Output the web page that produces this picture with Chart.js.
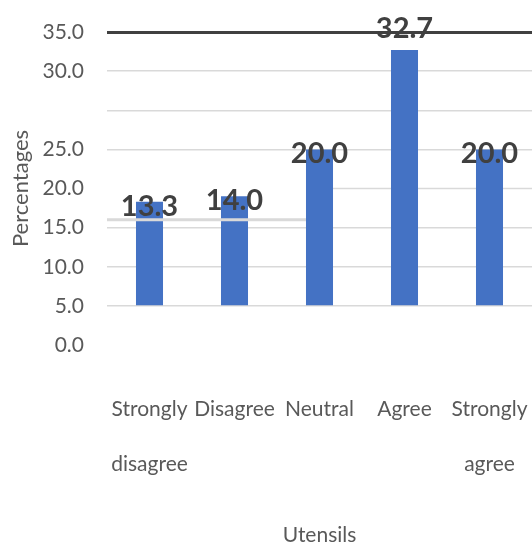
<!DOCTYPE html>
<html>
<head>
<meta charset="utf-8">
<script src="https://cdn.jsdelivr.net/npm/chart.js@4/dist/chart.umd.min.js"></script>
<style>
  html, body { margin: 0; padding: 0; background: #ffffff; }
  #wrap { width: 532px; height: 546px; }
</style>
</head>
<body>
<div id="wrap"><canvas id="chart"></canvas></div>
<script>
// Response categories and their share of respondents (%)
const categories = [["Strongly", "disagree"], "Disagree", "Neutral", "Agree", ["Strongly", "agree"]];
const percentages = [13.3, 14.0, 20.0, 32.7, 20.0];

// Y axis tick positions and the text printed beside each one
const yTickValues = [-5, 0, 5, 10, 15, 20, 25, 30, 35];
const yTickLabels = ["0.0", "5.0", "10.0", "15.0", "20.0", "25.0", "", "30.0", "35.0"];

// Horizontal rule moved off the 15 line for the first two columns
const shiftedRuleFrom = 15;
const shiftedRuleTo = 11;

const FONT = "Lato, 'Open Sans', sans-serif";
const TEXT = "#595959";
const GRID = "#d9d9d9";

const overlay = {
  id: "overlay",
  beforeDatasetsDraw(chart) {
    // the 15 rule only runs from the third column onwards
    const { ctx, chartArea, scales } = chart;
    const bar3 = chart.getDatasetMeta(0).data[2];
    const y = scales.y.getPixelForValue(shiftedRuleFrom);
    ctx.save();
    ctx.strokeStyle = GRID;
    ctx.lineWidth = 1.5;
    ctx.beginPath();
    ctx.moveTo(bar3.x - bar3.width / 2, y);
    ctx.lineTo(chartArea.right, y);
    ctx.stroke();
    ctx.restore();
  },
  afterDatasetsDraw(chart) {
    const { ctx, chartArea, scales } = chart;
    const bars = chart.getDatasetMeta(0).data;
    const bar3 = bars[2];
    // the displaced piece of that rule, drawn across the first two bars
    const yr = scales.y.getPixelForValue(shiftedRuleTo);
    ctx.save();
    ctx.strokeStyle = GRID;
    ctx.lineWidth = 3;
    ctx.beginPath();
    ctx.moveTo(chartArea.left, yr);
    ctx.lineTo(bar3.x - bar3.width / 2, yr);
    ctx.stroke();

    // value labels
    const maxVal = Math.max(...percentages);
    ctx.font = "bold 29px " + FONT;
    ctx.fillStyle = "#404040";
    ctx.textAlign = "center";
    ctx.textBaseline = "middle";
    bars.forEach((bar, i) => {
      const v = percentages[i];
      const y = v === maxVal ? bar.y - 21 : bar.y + 4.5;
      ctx.fillText(v.toFixed(1), bar.x, y);
    });
    ctx.restore();
  }
};

new Chart(document.getElementById("chart"), {
  type: "bar",
  data: {
    labels: categories,
    datasets: [{
      data: percentages,
      backgroundColor: "#4472C4",
      barPercentage: 0.318,
      categoryPercentage: 1.0
    }]
  },
  options: {
    responsive: true,
    maintainAspectRatio: false,
    animation: false,
    layout: { padding: { top: 32, right: 0, bottom: 0, left: 0 } },
    plugins: { legend: { display: false }, tooltip: { enabled: false } },
    scales: {
      x: {
        grid: { display: false, drawTicks: false },
        border: { display: false },
        afterFit(scale) {
          scale.height = 201;
          scale.paddingLeft = 0;
          scale.paddingRight = 0;
        },
        ticks: {
          color: TEXT,
          font: { family: FONT, size: 21, lineHeight: 2.62 },
          padding: 37,
          maxRotation: 0,
          autoSkip: false
        },
        title: {
          display: true,
          text: "Utensils",
          color: TEXT,
          font: { family: FONT, size: 21, lineHeight: 1 },
          padding: { top: 0, bottom: 0 }
        }
      },
      y: {
        min: -5,
        max: 35,
        afterBuildTicks(scale) {
          scale.ticks = yTickValues.map(v => ({ value: v }));
        },
        afterFit(scale) {
          scale.width = 107;
          scale.paddingTop = 0;
          scale.paddingBottom = 0;
        },
        ticks: {
          color: TEXT,
          font: { family: FONT, size: 21 },
          padding: 23,
          callback: (v) => yTickLabels[yTickValues.indexOf(v)]
        },
        grid: {
          drawTicks: false,
          color: (c) => {
            const v = c.tick ? c.tick.value : null;
            if (v === 35) return "#404040";
            if (v === -5 || v === shiftedRuleFrom) return "rgba(0,0,0,0)";
            return GRID;
          },
          lineWidth: (c) => (c.tick && c.tick.value === 35 ? 3 : 1.5)
        },
        border: { display: false },
        title: {
          display: true,
          text: "Percentages",
          color: TEXT,
          font: { family: FONT, size: 22 },
          padding: { top: 8, bottom: 10 }
        }
      }
    }
  },
  plugins: [overlay]
});
</script>
</body>
</html>
